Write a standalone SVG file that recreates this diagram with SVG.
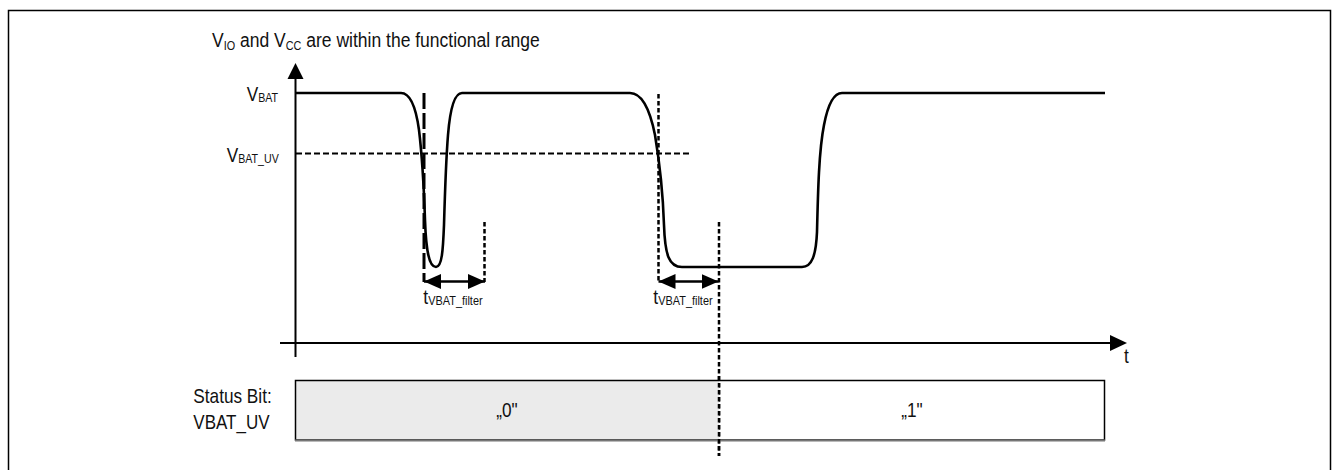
<svg xmlns="http://www.w3.org/2000/svg" width="1333" height="470" viewBox="0 0 1333 470">
<style>
text{font-family:"Liberation Sans",Arial,sans-serif;font-size:21px;fill:#111}
.sub{font-size:13px}
.axis{stroke:#000;stroke-width:2;fill:none}
.sig{stroke:#000;stroke-width:2.6;fill:none;stroke-linejoin:round}
.thr{stroke:#000;stroke-width:2;fill:none;stroke-dasharray:6 3}
.dot{stroke:#000;stroke-width:2.5;fill:none;stroke-dasharray:4.5 2.5}
.ldash{stroke:#000;stroke-width:3;fill:none;stroke-dasharray:16 4}
.dim{stroke:#000;stroke-width:2.5;fill:none}
</style>
<defs>
<marker id="ah" viewBox="0 0 17 15" refX="17" refY="7.5" markerWidth="17" markerHeight="15" markerUnits="userSpaceOnUse" orient="auto-start-reverse">
<path d="M0,0 L17,7.5 L0,15 Z" fill="#000"/>
</marker>
</defs>
<rect id="frame" x="8.5" y="10.5" width="1322" height="470" fill="#fff" stroke="#000" stroke-width="1.5"/>
<g id="title">
<text transform="translate(212,47) scale(0.834,1)">V<tspan class="sub" dy="3">IO</tspan><tspan dy="-3"> and V</tspan><tspan class="sub" dy="3">CC</tspan><tspan dy="-3"> are within the functional range</tspan></text>
</g>
<g id="axes">
<line class="axis" x1="295.5" y1="357" x2="295.5" y2="78"/>
<path d="M295.5,63 L303.5,79 L287.5,79 Z" fill="#000"/>
<line class="axis" x1="280" y1="343" x2="1111" y2="343"/>
<path d="M1127,343 L1110,335 L1110,351 Z" fill="#000"/>
<text id="t-label" transform="translate(1124,363) scale(0.82,1)">t</text>
</g>
<g id="levels">
<text id="vbat-label" transform="translate(246.7,100.5) scale(0.82,1)">V<tspan class="sub" dy="1">BAT</tspan></text>
<text id="vbatuv-label" transform="translate(226.7,161.5) scale(0.82,1)">V<tspan class="sub" dy="1">BAT_UV</tspan></text>
<line id="uv-threshold" class="thr" x1="296" y1="153.5" x2="689" y2="153.5"/>
</g>
<g id="connectors">
<line id="mark1" class="ldash" x1="424" y1="93" x2="424" y2="282"/>
<line id="mark1-end" class="dot" x1="484.5" y1="222" x2="484.5" y2="282"/>
<line id="mark2" class="dot" x1="658.5" y1="94" x2="658.5" y2="282"/>
<line id="mark2-end" class="dot" x1="719" y1="222" x2="719" y2="456"/>
<line id="dim1" class="dim" x1="424" y1="281.5" x2="485" y2="281.5" marker-start="url(#ah)" marker-end="url(#ah)"/>
<line id="dim2" class="dim" x1="658.5" y1="281.5" x2="718.5" y2="281.5" marker-start="url(#ah)" marker-end="url(#ah)"/>
</g>
<path id="signal" class="sig" d="M295,93 L401,93 C410,93 416,108 419,130 C422,155 424,190 425,220 C426,250 429,267 436,267 C442,267 443,250 444,225 C445,190 446,160 448,135 C450,110 454,93 462,93 L630,93 C642,93 650,110 655,135 C660,165 663,195 664,225 C665,255 669,267 682,267 L802,267 C812,267 816,255 817,232 C818,190 819,150 824,125 C828,104 834,93 842,93 L1105,93"/>
<g id="filter-labels">
<text transform="translate(423.3,304) scale(0.84,1)">t<tspan class="sub" dy="1">VBAT_filter</tspan></text>
<text transform="translate(653.3,304) scale(0.84,1)">t<tspan class="sub" dy="1">VBAT_filter</tspan></text>
</g>
<g id="status">
<text transform="translate(193.3,403.3) scale(0.82,1)">Status Bit:</text>
<text transform="translate(193.3,429.3) scale(0.81,1)">VBAT_UV</text>
<g id="bit0">
<rect x="295.5" y="380.5" width="423.5" height="59.5" fill="#ebebeb" stroke="none"/>
<text transform="translate(507,417) scale(0.82,1)" text-anchor="middle">„0"</text>
</g>
<g id="bit1">
<text transform="translate(912,417) scale(0.82,1)" text-anchor="middle">„1"</text>
</g>
<rect x="295.5" y="380.5" width="809" height="59.5" fill="none" stroke="#000" stroke-width="1.5"/>
<line x1="295" y1="440.5" x2="1105" y2="440.5" stroke="#777" stroke-width="2"/>
<line class="dot" x1="719" y1="376" x2="719" y2="456"/>
</g>
</svg>
